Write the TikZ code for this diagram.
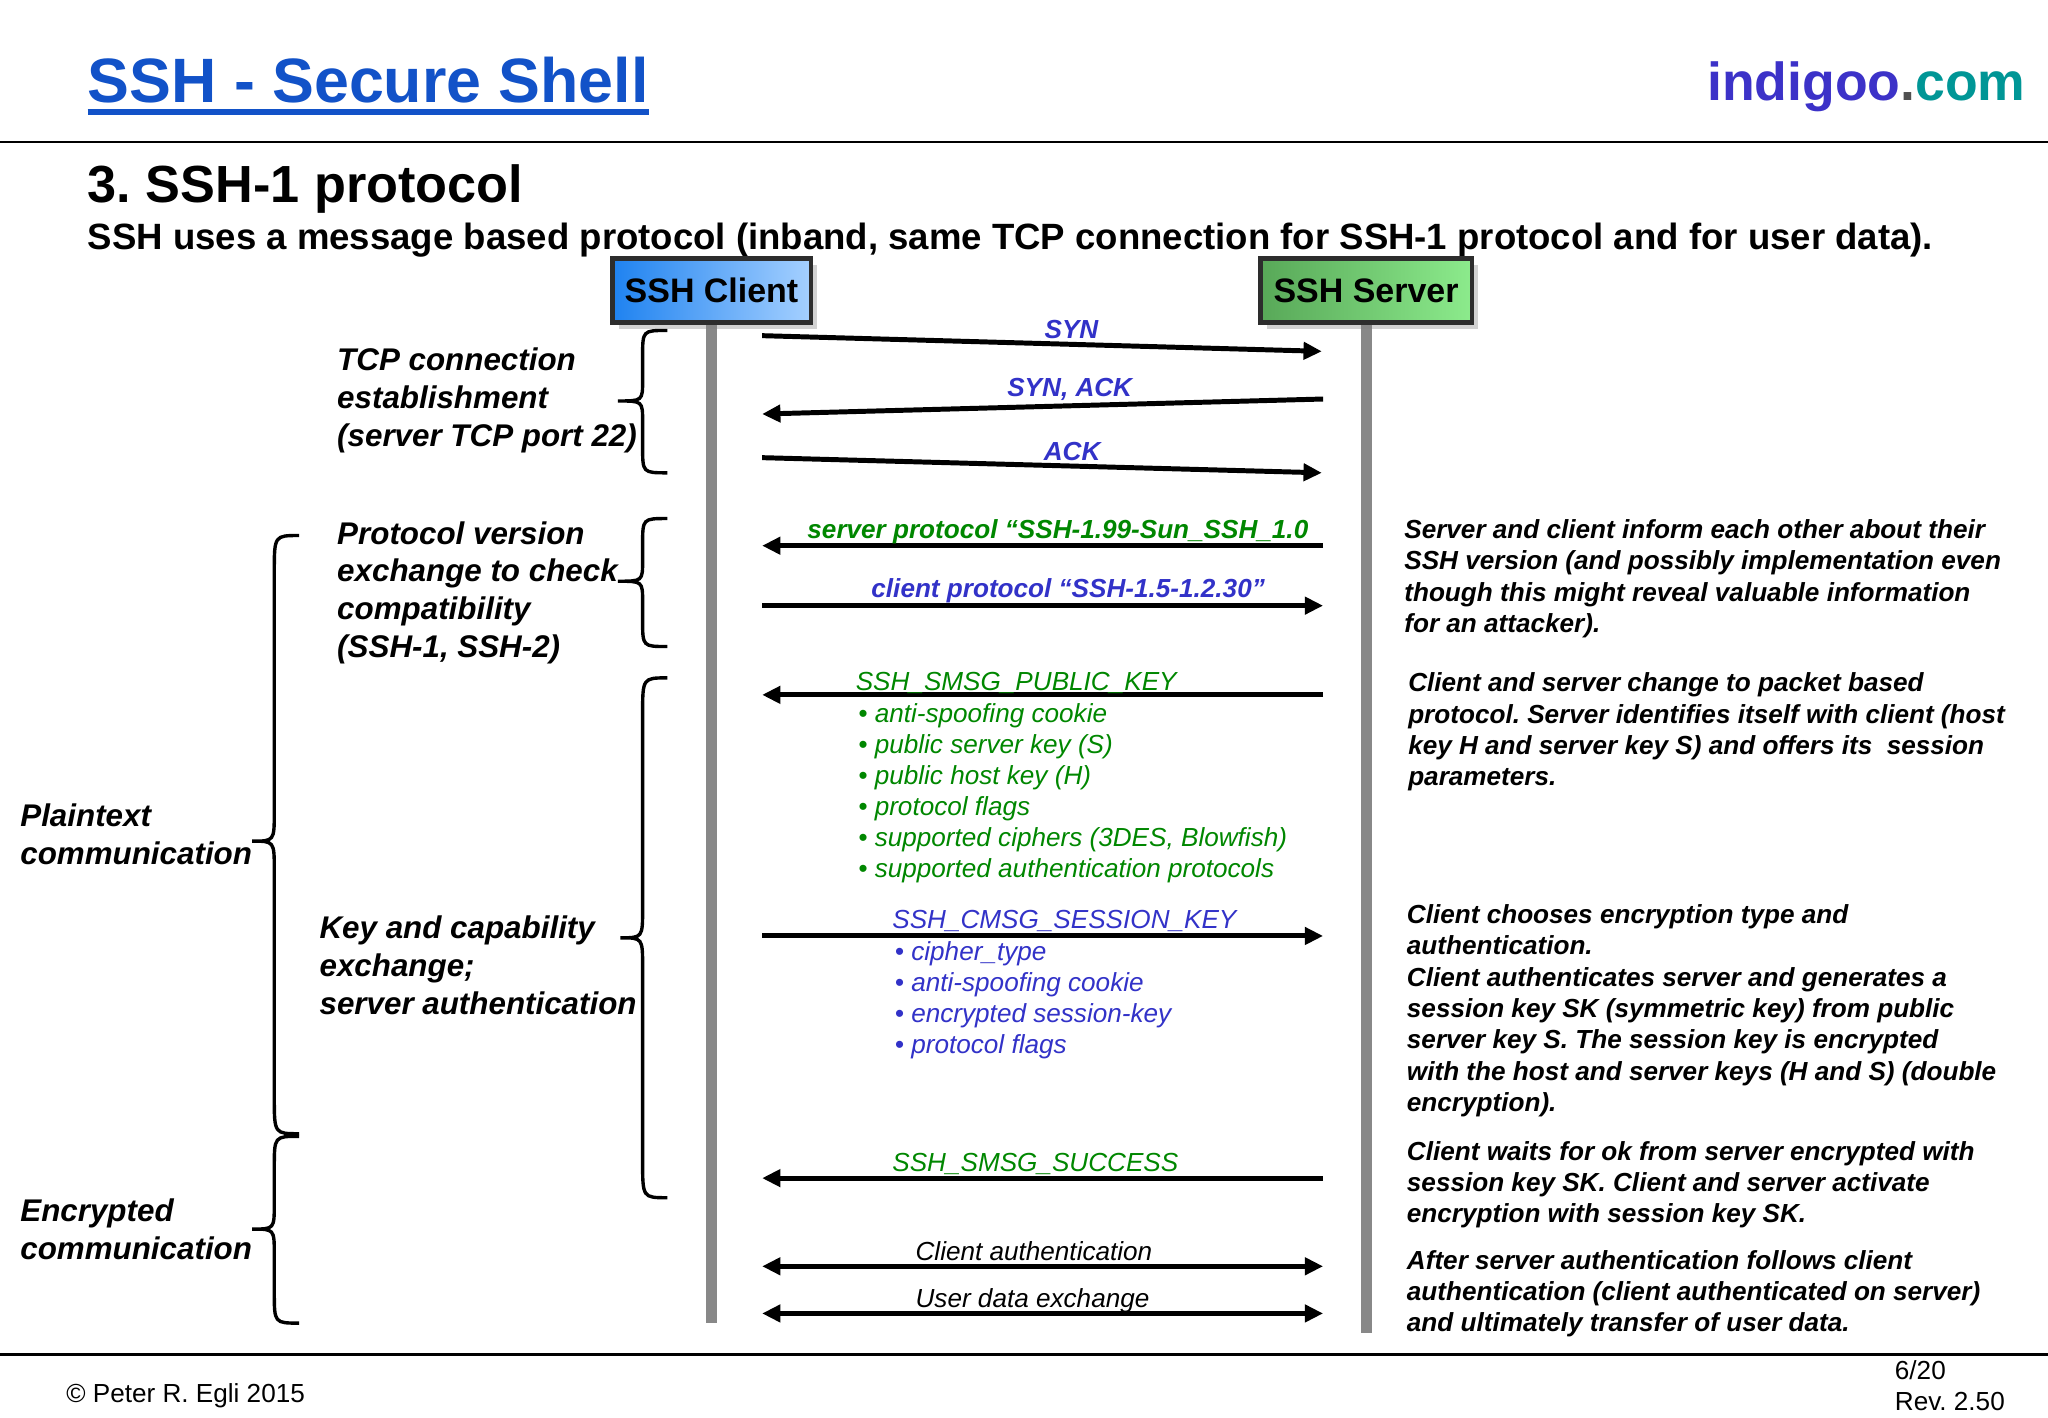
\documentclass[tikz,border=0pt]{standalone}
\usepackage{fontspec}
\setmainfont{Liberation Sans}
\usetikzlibrary{arrows.meta,shadows}
\frenchspacing
\definecolor{titleblue}{RGB}{18,82,200}
\definecolor{logoindigo}{RGB}{60,50,200}
\definecolor{logoteal}{RGB}{0,150,150}
\definecolor{dotgray}{RGB}{80,80,80}
\definecolor{lblue}{RGB}{50,50,200}
\definecolor{lgreen}{RGB}{0,135,0}
\definecolor{lifegray}{RGB}{136,136,136}
\definecolor{boxborder}{RGB}{45,45,45}
\newcommand\fsz[1]{\fontsize{#1}{#1}\selectfont}
\newcommand\TxtLines[6]{%
  \foreach \tl [count=\ti] in {#6} {\node[txt,#5] (#1\ti) at (#2,{#3+(\ti-1)*#4}) {\tl};}}
\newcommand\Brace[7]{%
  \draw[bracestyle] (#1,#4) .. controls (#2,#4) .. (#2,{#4+#7})
    -- (#2,{#5-#7*0.8}) .. controls (#2,#5) .. (#3,#5)
    .. controls (#2,#5) .. (#2,{#5+#7*0.8})
    -- (#2,{#6-#7}) .. controls (#2,#6) .. (#1,#6);}
\tikzset{
  msg/.style={line width=3.8pt,-{Triangle[length=14pt,width=13pt]}},
  dmsg/.style={line width=3.8pt,{Triangle[length=14pt,width=13pt]}-{Triangle[length=14pt,width=13pt]}},
  life/.style={line width=8.6pt,lifegray},
  bracestyle/.style={line width=2.6pt},
  txt/.style={inner sep=0pt,anchor=base west},
  bi/.style={font=\fsz{20}\bfseries\itshape},
  itx/.style={font=\fsz{20}\itshape},
  lab/.style={font=\fsz{24}\bfseries\itshape},
  hdr/.style={draw=boxborder,line width=3.5pt,minimum height=49pt,inner sep=0pt,
     font=\fsz{26}\bfseries,drop shadow={shadow xshift=5pt,shadow yshift=-5pt,opacity=0.35}},
}
\begin{document}
\begin{tikzpicture}[x=1pt,y=-1pt]
\useasboundingbox[fill=white] (0,0) rectangle (1568,1085.6);
% header
\node[txt,font=\fsz{48}\bfseries,text=titleblue] (title) at (67,78.6) {SSH - Secure Shell};
\draw[titleblue,line width=4.6pt] ([yshift=-7.4pt]title.base west) -- ([yshift=-7.4pt]title.base east);
\node[inner sep=0pt,anchor=base east,font=\fsz{41}\bfseries] (logo) at (1551,77.3)
  {\textcolor{logoindigo}{indigoo}\textcolor{dotgray}{.}\textcolor{logoteal}{com}};
\draw[line width=1.6pt] (0,108.5) -- (1568,108.5);
\node[txt,font=\fsz{40}\bfseries] (h3) at (67,155.2) {3. SSH-1 protocol};
\node[txt,font=\fsz{28}\bfseries] (sub) at (67,191.4) {SSH uses a message based protocol (inband, same TCP connection for SSH-1 protocol and for user data).};
% lifelines
\coordinate (cEnd) at (544.7,1012.7);
\coordinate (sEnd) at (1046.4,1020.7);
\coordinate (cTop) at (544.7,240);
\coordinate (sTop) at (1046.4,240);
\draw[life] (cTop) -- (cEnd);
\draw[life] (sTop) -- (sEnd);
\node[hdr,minimum width=152pt,left color={rgb,255:red,30;green,130;blue,240},right color={rgb,255:red,165;green,208;blue,255}] (client) at (544.75,222.4) {SSH Client};
\node[hdr,minimum width=162pt,left color={rgb,255:red,88;green,168;blue,88},right color={rgb,255:red,140;green,235;blue,140}] (server) at (1045.9,222.4) {SSH Server};
% message endpoints
\coordinate (c1) at (583.5,257);   \coordinate (s1) at (1012,269);
\coordinate (s2) at (1013,305.5);  \coordinate (c2) at (583.5,317);
\coordinate (c3) at (583.5,350.4); \coordinate (s3) at (1012,362);
\coordinate (s4) at (1013,417.8);  \coordinate (c4) at (583.5,417.8);
\coordinate (c5) at (583.5,463.7); \coordinate (s5) at (1013,463.7);
\coordinate (s6) at (1013,532);    \coordinate (c6) at (583.5,532);
\coordinate (c7) at (583.5,716.6); \coordinate (s7) at (1013,716.6);
\coordinate (s8) at (1013,902);    \coordinate (c8) at (583.5,902);
\coordinate (c9) at (583.5,969.5); \coordinate (s9) at (1013,969.5);
\coordinate (c10) at (583.5,1005.6); \coordinate (s10) at (1013,1005.6);
\draw[msg] (c1) -- (s1);
\draw[msg] (s2) -- (c2);
\draw[msg] (c3) -- (s3);
\draw[msg] (s4) -- (c4);
\draw[msg] (c5) -- (s5);
\draw[msg] (s6) -- (c6);
\draw[msg] (c7) -- (s7);
\draw[msg] (s8) -- (c8);
\draw[dmsg] (c9) -- (s9);
\draw[dmsg] (c10) -- (s10);
% message labels
\node[txt,bi,text=lblue] (lsyn) at (799.6,259) {SYN};
\node[txt,bi,text=lblue] (lsynack) at (771,303.8) {SYN, ACK};
\node[txt,bi,text=lblue] (lack) at (799,352.3) {ACK};
\node[txt,bi,text=lgreen] (lsp) at (618,412.3) {server protocol “SSH-1.99-Sun\_SSH\_1.0};
\node[txt,bi,text=lblue] (lcp) at (667,457.5) {client protocol “SSH-1.5-1.2.30”};
\node[txt,itx,text=lgreen] (lpk) at (655,528.8) {SSH\_SMSG\_PUBLIC\_KEY};
\TxtLines{pk}{657}{553.5}{23.7}{itx,text=lgreen}{{• anti-spoofing cookie},{• public server key (S)},{• public host key (H)},{• protocol flags},{• supported ciphers (3DES, Blowfish)},{• supported authentication protocols}}
\node[txt,itx,text=lblue] (lsk) at (683,710.8) {SSH\_CMSG\_SESSION\_KEY};
\TxtLines{sk}{685}{735.3}{23.8}{itx,text=lblue}{{• cipher\_type},{• anti-spoofing cookie},{• encrypted session-key},{• protocol flags}}
\node[txt,itx,text=lgreen] (lsucc) at (683,896.6) {SSH\_SMSG\_SUCCESS};
\node[txt,itx] (lca) at (700.8,965) {Client authentication};
\node[txt,itx] (lud) at (700.8,1000.8) {User data exchange};
% right explanations
\TxtLines{ra}{1075}{412.3}{24.1}{bi}{{Server and client inform each other about their},{SSH version (and possibly implementation even},{though this might reveal valuable information},{for an attacker).}}
\TxtLines{rb}{1078}{529.8}{23.8}{bi}{{Client and server change to packet based},{protocol. Server identifies itself with client (host},{key H and server key S) and offers its\ \ session},{parameters.}}
\TxtLines{rc}{1077}{706.9}{24}{bi}{{Client chooses encryption type and},{authentication.},{Client authenticates server and generates a},{session key SK (symmetric key) from public},{server key S. The session key is encrypted},{with the host and server keys (H and S) (double},{encryption).}}
\TxtLines{rd}{1077}{888.2}{23.7}{bi}{{Client waits for ok from server encrypted with},{session key SK. Client and server activate},{encryption with session key SK.}}
\TxtLines{re}{1077}{972.3}{23.7}{bi}{{After server authentication follows client},{authentication (client authenticated on server)},{and ultimately transfer of user data.}}
% left labels
\TxtLines{la}{258}{284}{29}{lab}{{TCP connection},{establishment},{(server TCP port 22)}}
\TxtLines{lb}{258}{416.5}{29}{lab}{{Protocol version},{exchange to check},{compatibility},{(SSH-1, SSH-2)}}
\TxtLines{lc}{244.5}{718.5}{29}{lab}{{Key and capability},{exchange;},{server authentication}}
\TxtLines{ld}{15.4}{632.8}{29}{lab}{{Plaintext},{communication}}
\TxtLines{le}{15.4}{935}{29}{lab}{{Encrypted},{communication}}
% braces
\Brace{511}{492}{473}{253}{307}{362}{20}
\Brace{511}{492}{473}{397}{445}{495}{20}
\Brace{511}{492}{475}{519}{718}{917}{28}
\Brace{229}{210}{193}{410}{644}{868}{28}
\Brace{229}{210}{193}{870}{941}{1013}{24}
% footer
\draw[line width=1.6pt] (0,1037) -- (1568,1037);
\node[txt,font=\fsz{20}] (copy) at (50.6,1073.8) {© Peter R. Egli 2015};
\node[txt,font=\fsz{20}] (page) at (1450.6,1056.3) {6/20};
\node[txt,font=\fsz{20}] (rev) at (1450.6,1080) {Rev. 2.50};
\end{tikzpicture}
\end{document}
